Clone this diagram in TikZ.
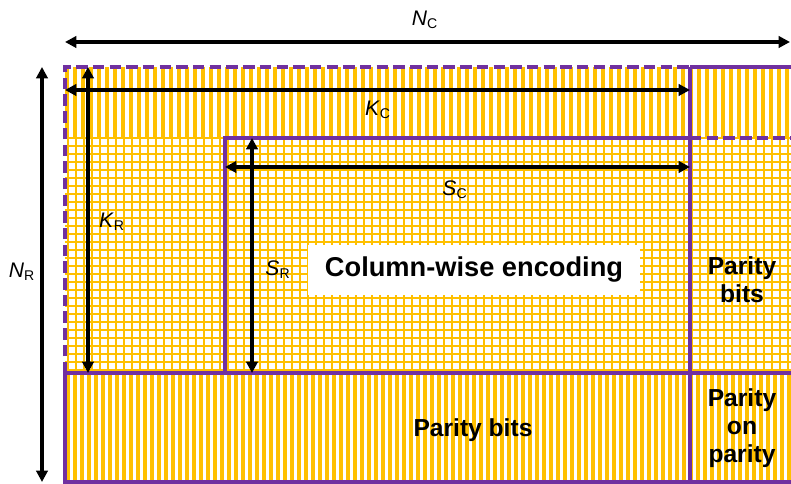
\documentclass[tikz,border=0pt]{standalone}
\usepackage{fontspec}
\setmainfont{Liberation Sans}
\usepackage{xcolor}
\usetikzlibrary{arrows.meta}

\definecolor{cellgold}{HTML}{FFC000}
\definecolor{edgepurple}{HTML}{7030A0}

\tikzset{
    dimarrow/.style={{Triangle[length=6.5pt,width=6.5pt]}-{Triangle[length=6.5pt,width=6.5pt]}, line width=1.9pt},
    blockline/.style={draw=edgepurple, line width=2pt},
    dashline/.style={blockline, dash pattern=on 6.5pt off 3pt},
    dimlabel/.style={font=\fontsize{12}{14}\selectfont},
    blocktext/.style={font=\fontsize{14}{16}\selectfont\bfseries, align=center},
}

\begin{document}
\begin{tikzpicture}[x=2cm,y=2cm]
    \useasboundingbox (0,0) rectangle (7.91,4.84);

    % top band, vertical stripes
    \begin{scope}
        \clip (0.65,3.46) rectangle (7.91,4.17);
        \foreach \x in {0.67,0.75,...,7.99} {
            \draw[cellgold, line width=2.3pt] (\x,3.46) -- (\x,4.17);
        }
    \end{scope}

    % middle, grid
    \begin{scope}
        \clip (0.65,1.11) rectangle (7.91,3.46);
        \foreach \x in {0.68,0.76,...,7.99} {
            \draw[cellgold, line width=1.3pt] (\x,1.11) -- (\x,3.46);
        }
        \foreach \y in {1.14,1.22,...,3.50} {
            \draw[cellgold, line width=1.3pt] (0.65,\y) -- (7.91,\y);
        }
    \end{scope}

    % bottom band, vertical stripes
    \begin{scope}
        \clip (0.65,0.02) rectangle (7.91,1.11);
        \foreach \x in {0.68,0.75,...,7.99} {
            \draw[cellgold, line width=2.1pt] (\x,0.02) -- (\x,1.11);
        }
    \end{scope}

    % block borders
    \draw[dashline] (0.65,1.11) rectangle (6.90,4.17);
    \draw[blockline] (6.90,4.17) -- (7.91,4.17);
    \draw[dashline] (6.90,3.46) -- (7.91,3.46);
    \draw[blockline] (6.90,4.17) -- (6.90,0.02);
    \draw[blockline] (2.25,1.11) -- (2.25,3.46) -- (6.90,3.46);
    \draw[blockline] (7.91,1.11) -- (0.65,1.11) -- (0.65,0.02) -- (7.91,0.02);

    % dimension ends
    \coordinate (ncleft) at (0.65,4.42);
    \coordinate (ncright) at (7.90,4.42);
    \coordinate (nrtop) at (0.42,4.17);
    \coordinate (nrbottom) at (0.42,0.02);
    \coordinate (kcleft) at (0.65,3.94);
    \coordinate (kcright) at (6.90,3.94);
    \coordinate (krtop) at (0.88,4.17);
    \coordinate (krbottom) at (0.88,1.11);
    \coordinate (scleft) at (2.25,3.17);
    \coordinate (scright) at (6.90,3.17);
    \coordinate (srtop) at (2.52,3.46);
    \coordinate (srbottom) at (2.52,1.11);

    \draw[dimarrow] (ncleft) -- (ncright);
    \draw[dimarrow] (nrtop) -- (nrbottom);
    \draw[dimarrow] (kcleft) -- (kcright);
    \draw[dimarrow] (krtop) -- (krbottom);
    \draw[dimarrow] (scleft) -- (scright);
    \draw[dimarrow] (srtop) -- (srbottom);

    \node[dimlabel] (nclabel) at (4.25,4.64) {\textit{N}\textsubscript{C}};
    \node[dimlabel] (nrlabel) at (0.22,2.12) {\textit{N}\textsubscript{R}};
    \node[dimlabel] (kclabel) at (3.78,3.74) {\textit{K}\textsubscript{C}};
    \node[dimlabel] (krlabel) at (1.12,2.62) {\textit{K}\textsubscript{R}};
    \node[dimlabel] (sclabel) at (4.55,2.94) {\textit{S}\textsubscript{C}};
    \node[dimlabel] (srlabel) at (2.78,2.14) {\textit{S}\textsubscript{R}};

    % block texts
    \node[blocktext, font=\fontsize{15.5}{17}\selectfont\bfseries, fill=white, minimum width=6.64cm, minimum height=1cm] (encode) at (4.74,2.14) {Column-wise encoding};
    \node[blocktext] (rowparity) at (7.42,2.04) {Parity\\bits};
    \node[blocktext] (colparity) at (4.73,0.54) {Parity bits};
    \node[blocktext] (bothparity) at (7.42,0.56) {Parity\\on\\parity};
\end{tikzpicture}
\end{document}
